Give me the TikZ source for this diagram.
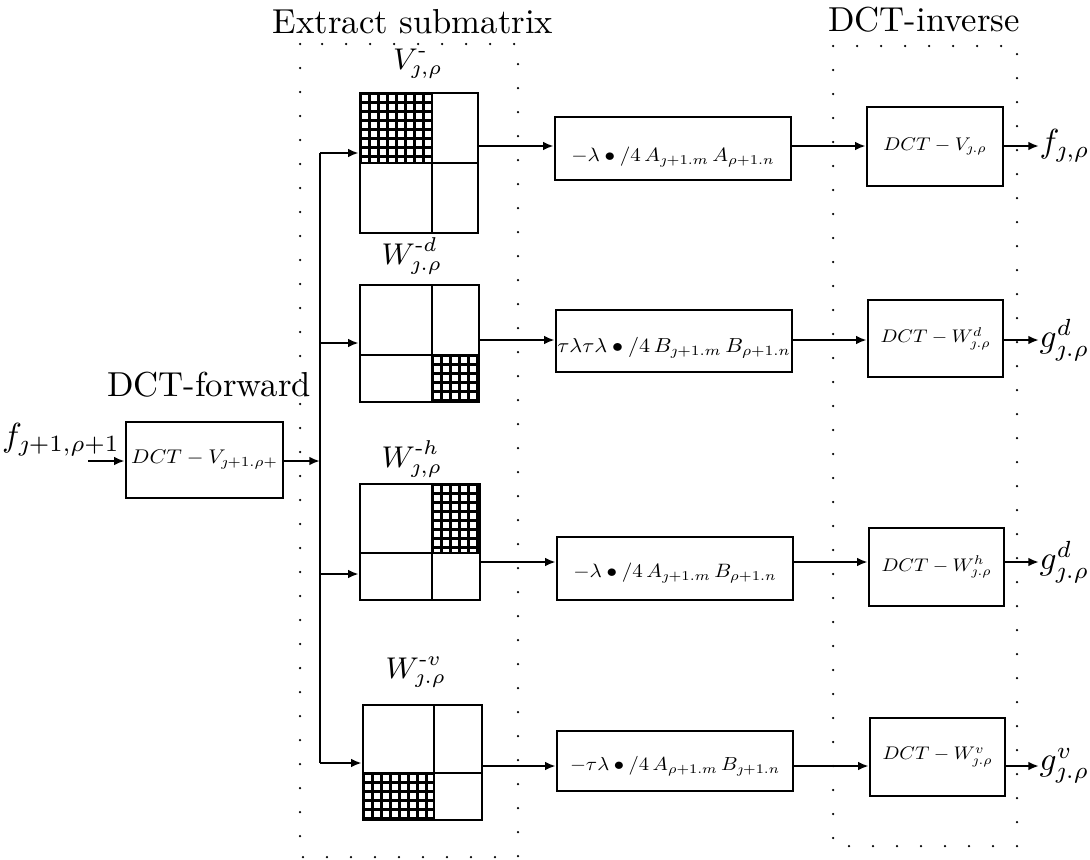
\documentclass[tikz,border=0pt]{standalone}
\usepackage{amsmath}
\usepackage{graphicx}
\usetikzlibrary{arrows.meta,fit}

% lettering inside the processing boxes: set at text size, then fitted to a
% given width and flattened a little
\newcommand\boxmath[2]{\scalebox{1}[0.92]{\resizebox{#1}{!}{$#2$}}}

% cross-hatched sub-block: a dense mesh clipped to the given rectangle
\newcommand\meshcell[4]{%
  \begin{scope}
    \clip (#1,#2) rectangle (#3,#4);
    \foreach \t in {0,...,10}{%
      \draw[mesh] ({#1+\t*9},#2) -- ({#1+\t*9},#4);
      \draw[mesh] (#1,{#2+\t*9}) -- (#3,{#2+\t*9});
    }
  \end{scope}}

\tikzset{
  x=0.3pt, y=-0.3pt,
  wire/.style={line width=0.65pt},
  flow/.style={wire, -{Latex[length=3.2pt,width=2.6pt]}},
  box/.style={draw, line width=0.75pt, inner sep=0pt},
  cellframe/.style={draw, line width=0.75pt, inner sep=0pt},
  cell/.style={line width=0.75pt},
  mesh/.style={line width=0.9pt},
  region/.style={line width=0.75pt, line cap=round, dash pattern=on 0pt off 7.2pt},
  title/.style={font=\fontsize{10.4}{12}\selectfont, inner sep=0pt},
  sig/.style={font=\fontsize{10}{12}\selectfont, inner sep=0pt},
  mlabel/.style={font=\fontsize{8.6}{10}\selectfont, inner sep=0pt},
  boxtext/.style={font=\fontsize{10}{12}\selectfont, inner sep=0pt},
}

\begin{document}
\begin{tikzpicture}
\useasboundingbox (0,0) rectangle (1090,859);

% stage regions
\draw[region] (300,44) rectangle (518,857);
\draw[region] (833,46) rectangle (1017,846);
\node[title] (tx) at (413,22) {Extract submatrix};
\node[title] (ti) at (924,20) {DCT-inverse};
\node[title] (tf) at (209,385) {DCT-forward};

% input and forward transform
\coordinate (fr) at (0,461);
\coordinate (fin) at (88,461);
\node[sig] (fl) at (61,440) {$f_{\jmath+1,\rho+1}$};
\node[box, fit={(126,422) (283,498)}] (F) {};
\node[boxtext] (Ft) at (F.center) {\boxmath{44pt}{DCT - V_{\jmath+1.\rho+}}};
\draw[flow] (fin) -- (F.west |- fin);

% distribution bus
\coordinate (b1) at (320,153);
\coordinate (b2) at (320,343);
\coordinate (b3) at (320,574);
\coordinate (b4) at (320,763);
\draw[flow] (F.east |- fr) -- (fr -| b1);
\draw[wire] (b1) -- (b4);

% sub-block selectors
\meshcell{360}{93}{432}{163}
\node[cellframe, fit={(360,93) (478,233)}] (v) {};
\draw[cell] (432,93) -- (432,233);
\draw[cell] (360,163) -- (478,163);
\node[mlabel] (vl) at (418,64) {$V^{\text{-}}_{\jmath,\rho}$};

\meshcell{432}{355}{479}{402}
\node[cellframe, fit={(360,285) (479,402)}] (wd) {};
\draw[cell] (432,285) -- (432,402);
\draw[cell] (360,355) -- (479,355);
\node[mlabel] (wdl) at (412,256) {$W^{\text{-}d}_{\jmath.\rho}$};

\meshcell{432}{484}{480}{553}
\node[cellframe, fit={(360,484) (480,600)}] (wh) {};
\draw[cell] (432,484) -- (432,600);
\draw[cell] (360,553) -- (480,553);
\node[mlabel] (whl) at (412,459) {$W^{\text{-}h}_{\jmath,\rho}$};

\meshcell{363}{773}{434}{820}
\node[cellframe, fit={(363,705) (482,820)}] (wv) {};
\draw[cell] (434,705) -- (434,820);
\draw[cell] (363,773) -- (482,773);
\node[mlabel] (wvl) at (416,672) {$W^{\text{-}v}_{\jmath.\rho}$};

\draw[flow] (b1) -- (v.west |- b1);
\draw[flow] (b2) -- (wd.west |- b2);
\draw[flow] (b3) -- (wh.west |- b3);
\draw[flow] (b4) -- (wv.west |- b4);

% weighting boxes
\coordinate (r1) at (0,146);
\coordinate (r2) at (0,340);
\coordinate (r3) at (0,562);
\coordinate (r4) at (0,766);

\node[box, fit={(555,117) (791,180)}] (m1) {};
\node[boxtext] (m1t) at ([yshift=-2.5pt]m1.center) {\boxmath{61pt}{-\lambda\bullet/4\,A_{\jmath+1.m}\,A_{\rho+1.n}}};
\node[box, fit={(556,310) (792,372)}] (m2) {};
\node[boxtext] (m2t) at ([yshift=-2pt]m2.center) {\boxmath{70pt}{\tau\lambda\tau\lambda\bullet/4\,B_{\jmath+1.m}\,B_{\rho+1.n}}};
\node[box, fit={(557,537) (793,600)}] (m3) {};
\node[boxtext] (m3t) at ([yshift=-1.5pt]m3.center) {\boxmath{61pt}{-\lambda\bullet/4\,A_{\jmath+1.m}\,B_{\rho+1.n}}};
\node[box, fit={(557,731) (793,791)}] (m4) {};
\node[boxtext] (m4t) at ([yshift=-1.5pt]m4.center) {\boxmath{63pt}{-\tau\lambda\bullet/4\,A_{\rho+1.m}\,B_{\jmath+1.n}}};

\draw[flow] (v.east |- r1) -- (m1.west |- r1);
\draw[flow] (wd.east |- r2) -- (m2.west |- r2);
\draw[flow] (wh.east |- r3) -- (m3.west |- r3);
\draw[flow] (wv.east |- r4) -- (m4.west |- r4);

% inverse transforms
\node[box, fit={(867,107) (1003,186)}] (i1) {};
\node[boxtext] (i1t) at (i1.center) {\boxmath{31pt}{DCT - V_{\jmath.\rho}}};
\node[box, fit={(868,300) (1003,377)}] (i2) {};
\node[boxtext] (i2t) at (i2.center) {\boxmath{33pt}{DCT - W^{d}_{\jmath.\rho}}};
\node[box, fit={(869,528) (1004,606)}] (i3) {};
\node[boxtext] (i3t) at (i3.center) {\boxmath{33pt}{DCT - W^{h}_{\jmath.\rho}}};
\node[box, fit={(870,718) (1005,796)}] (i4) {};
\node[boxtext] (i4t) at (i4.center) {\boxmath{33pt}{DCT - W^{v}_{\jmath.\rho}}};

\draw[flow] (m1.east |- r1) -- (i1.west |- r1);
\draw[flow] (m2.east |- r2) -- (i2.west |- r2);
\draw[flow] (m3.east |- r3) -- (i3.west |- r3);
\draw[flow] (m4.east |- r4) -- (i4.west |- r4);

% outputs
\node[sig, anchor=west] (o1) at (1039,146) {$f_{\jmath,\rho}$};
\node[sig, anchor=west] (o2) at (1039,340) {$g^{d}_{\jmath.\rho}$};
\node[sig, anchor=west] (o3) at (1039,562) {$g^{d}_{\jmath.\rho}$};
\node[sig, anchor=west] (o4) at (1039,766) {$g^{v}_{\jmath.\rho}$};
\draw[flow] (i1.east |- r1) -- (o1.west);
\draw[flow] (i2.east |- r2) -- (o2.west);
\draw[flow] (i3.east |- r3) -- (o3.west);
\draw[flow] (i4.east |- r4) -- (o4.west);
\end{tikzpicture}
\end{document}
